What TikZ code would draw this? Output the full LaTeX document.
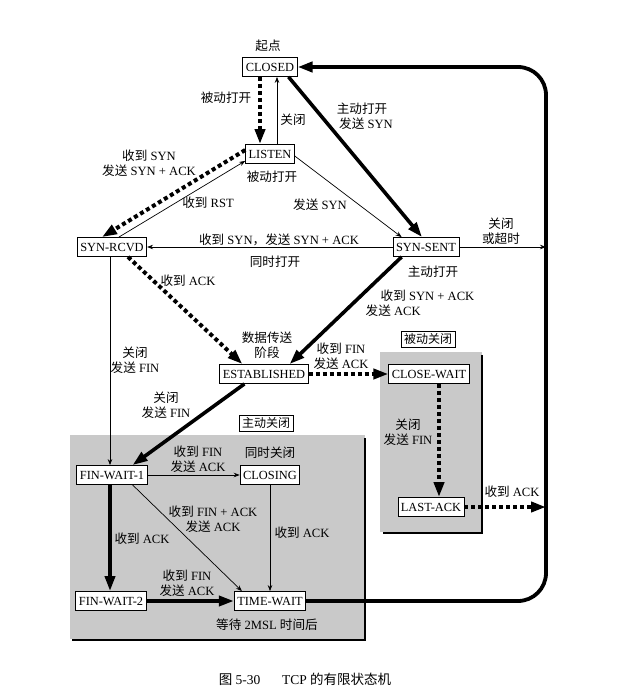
\documentclass[tikz,border=0pt]{standalone}
\usepackage{fontspec}
\setmainfont{Liberation Serif}
\newfontfamily\zhfont{Noto Sans CJK SC}
\newcommand{\zh}[1]{{\zhfont #1}}
\usetikzlibrary{arrows.meta, positioning, calc}
\definecolor{zonegray}{HTML}{C9C9C9}

\begin{document}
\begin{tikzpicture}[
  x=1pt, y=-1pt,
  state/.style={draw, fill=white, line width=0.8pt, minimum height=19pt,
    inner xsep=3pt, inner ysep=1pt, font=\fontsize{12.4}{13}\selectfont},
  tag/.style={draw, fill=white, line width=0.7pt, minimum height=16pt,
    inner xsep=3pt, inner ysep=1pt, font=\fontsize{12}{13}\selectfont},
  lbl/.style={align=center, font=\fontsize{12.6}{15}\selectfont},
  arr/.style={-{Stealth[length=6pt, width=4.5pt]}, line width=0.7pt},
  bigarr/.style={-{Triangle[length=15pt, width=10pt]}, line width=3.6pt},
  dotarr/.style={-{Triangle[length=15pt, width=10pt]}, line width=4pt,
    dash pattern=on 4pt off 3pt},
  zone/.style={fill=zonegray, draw=none},
  shadow/.style={line width=2.4pt}
]
  \useasboundingbox (0,0) rectangle (617,695);

  % Shaded zones
  \fill[zone] (70,435) rectangle (365,639);
  \draw[shadow] (365,438) -- (365,640) -- (72,640);
  \fill[zone] (380,352) rectangle (482,532);
  \draw[shadow] (482,355) -- (482,533) -- (383,533);

  % States
  \node[state] (closed) at (270,67) {CLOSED};
  \node[state] (listen) at (270,154) {LISTEN};
  \node[state] (synrcvd) at (112,247) {SYN-RCVD};
  \node[state] (synsent) at (426,247) {SYN-SENT};
  \node[state] (established) at (264,374) {ESTABLISHED};
  \node[state] (closewait) at (429,374) {CLOSE-WAIT};
  \node[state] (lastack) at (431,507) {LAST-ACK};
  \node[state] (finwait1) at (112,475) {FIN-WAIT-1};
  \node[state] (closing) at (270,475) {CLOSING};
  \node[state] (finwait2) at (111,601) {FIN-WAIT-2};
  \node[state] (timewait) at (270,601) {TIME-WAIT};

  % Zone tags
  \node[tag] (passclose) at (428,339) {\zh{被动关闭}};
  \node[tag] (actclose) at (266,423) {\zh{主动关闭}};

  % Return path to CLOSED
  \coordinate (loopbr) at (546,601);
  \coordinate (looptr) at (546,67);
  \draw[bigarr, line width=3.8pt, rounded corners=28pt]
    (timewait.east) -- (loopbr) -- (looptr) -- (closed.east);

  % Opening transitions
  \draw[dotarr] ([xshift=-10pt]closed.south) -- ([xshift=-10pt]listen.north);
  \draw[arr] ([xshift=7pt]listen.north) -- ([xshift=7pt]closed.south);
  \draw[bigarr] ([xshift=-9pt]closed.south east) -- ([xshift=-4pt]synsent.north);
  \draw[arr] ([yshift=-2pt]listen.east) -- ([xshift=9pt]synsent.north west);
  \draw[dotarr] ([yshift=4pt]listen.west) -- ([xshift=25pt]synrcvd.north west);
  \draw[arr] ([xshift=42pt]synrcvd.north west) -- ([yshift=3pt]listen.south west);
  \draw[arr] (synsent.west) -- (synrcvd.east);
  \draw[arr] (synsent.east) -- (synsent.east -| looptr);
  \draw[bigarr] ([xshift=9pt]synsent.south west) -- ([xshift=-19pt]established.north east);
  \draw[dotarr] ([xshift=16pt]synrcvd.south) -- ([xshift=23pt]established.north west);

  % Closing transitions
  \draw[arr] ([xshift=-2pt]synrcvd.south) -- ([xshift=-2pt]finwait1.north);
  \draw[bigarr] ([xshift=25pt]established.south west) -- ([xshift=-15pt]finwait1.north east);
  \draw[dotarr] (established.east) -- (closewait.west);
  \draw[dotarr] ([xshift=10pt]closewait.south) -- ([xshift=10pt]closewait.south |- lastack.north);
  \draw[dotarr] (lastack.east) -- (lastack.east -| looptr);
  \draw[arr] (finwait1.east) -- (closing.west);
  \draw[arr] ([xshift=-15pt]finwait1.south east) -- ([xshift=8pt]timewait.north west);
  \draw[arr] (closing.south) -- (timewait.north);
  \draw[bigarr] ([xshift=-2pt]finwait1.south) -- ([xshift=-2pt]finwait1.south |- finwait2.north);
  \draw[bigarr] (finwait2.east) -- (timewait.west);

  % Labels
  \node[lbl] (lstart) at (268,46) {\zh{起点}};
  \node[lbl] (lpassopen) at (226,98) {\zh{被动打开}};
  \node[lbl] (lclose1) at (293,120) {\zh{关闭}};
  \node[lbl] (lactopen) at (362,116) {\zh{主动打开}\\\hspace*{8pt}\zh{发送} SYN};
  \node[lbl] (lsynrcv) at (149,163) {\zh{收到} SYN\\\zh{发送} SYN + ACK};
  \node[lbl] (lpassopen2) at (272,177) {\zh{被动打开}};
  \node[lbl] (lrst) at (208,203) {\zh{收到} RST};
  \node[lbl] (lsendsyn) at (320,205) {\zh{发送} SYN};
  \node[lbl] (ltimeout) at (501,231) {\zh{关闭}\\\zh{或超时}};
  \node[lbl] (lsimsyn) at (279,240) {\zh{收到} SYN\zh{，发送} SYN + ACK};
  \node[lbl] (lsimopen) at (275,262) {\zh{同时打开}};
  \node[lbl] (lactopen2) at (433,272) {\zh{主动打开}};
  \node[lbl, align=left] (lsynack) at (420,303) {\hspace*{15pt}\zh{收到} SYN + ACK\\\zh{发送} ACK};
  \node[lbl] (lack1) at (188,281) {\zh{收到} ACK};
  \node[lbl] (ldata) at (267,345) {\zh{数据传送}\\\zh{阶段}};
  \node[lbl] (lfin1) at (135,360) {\zh{关闭}\\\zh{发送} FIN};
  \node[lbl] (lfinrcv) at (341,356) {\zh{收到} FIN\\\zh{发送} ACK};
  \node[lbl] (lfin2) at (166,405) {\zh{关闭}\\\zh{发送} FIN};
  \node[lbl] (lfin3) at (408,432) {\zh{关闭}\\\zh{发送} FIN};
  \node[lbl] (lack2) at (512,492) {\zh{收到} ACK};
  \node[lbl] (lfinack1) at (198,459) {\zh{收到} FIN\\\zh{发送} ACK};
  \node[lbl] (lsimclose) at (270,453) {\zh{同时关闭}};
  \node[lbl] (lfinack2) at (213,519) {\zh{收到} FIN + ACK\\\zh{发送} ACK};
  \node[lbl] (lack3) at (142,539) {\zh{收到} ACK};
  \node[lbl] (lack4) at (302,533) {\zh{收到} ACK};
  \node[lbl] (lfinack3) at (187,583) {\zh{收到} FIN\\\zh{发送} ACK};
  \node[lbl] (l2msl) at (267,625) {\zh{等待} 2MSL \zh{时间后}};

  % Caption
  \node[font=\fontsize{13.5}{15}\selectfont] (caption) at (305,679)
    {\zh{图} 5-30\hspace{1.6em}TCP \zh{的有限状态机}};
\end{tikzpicture}
\end{document}
